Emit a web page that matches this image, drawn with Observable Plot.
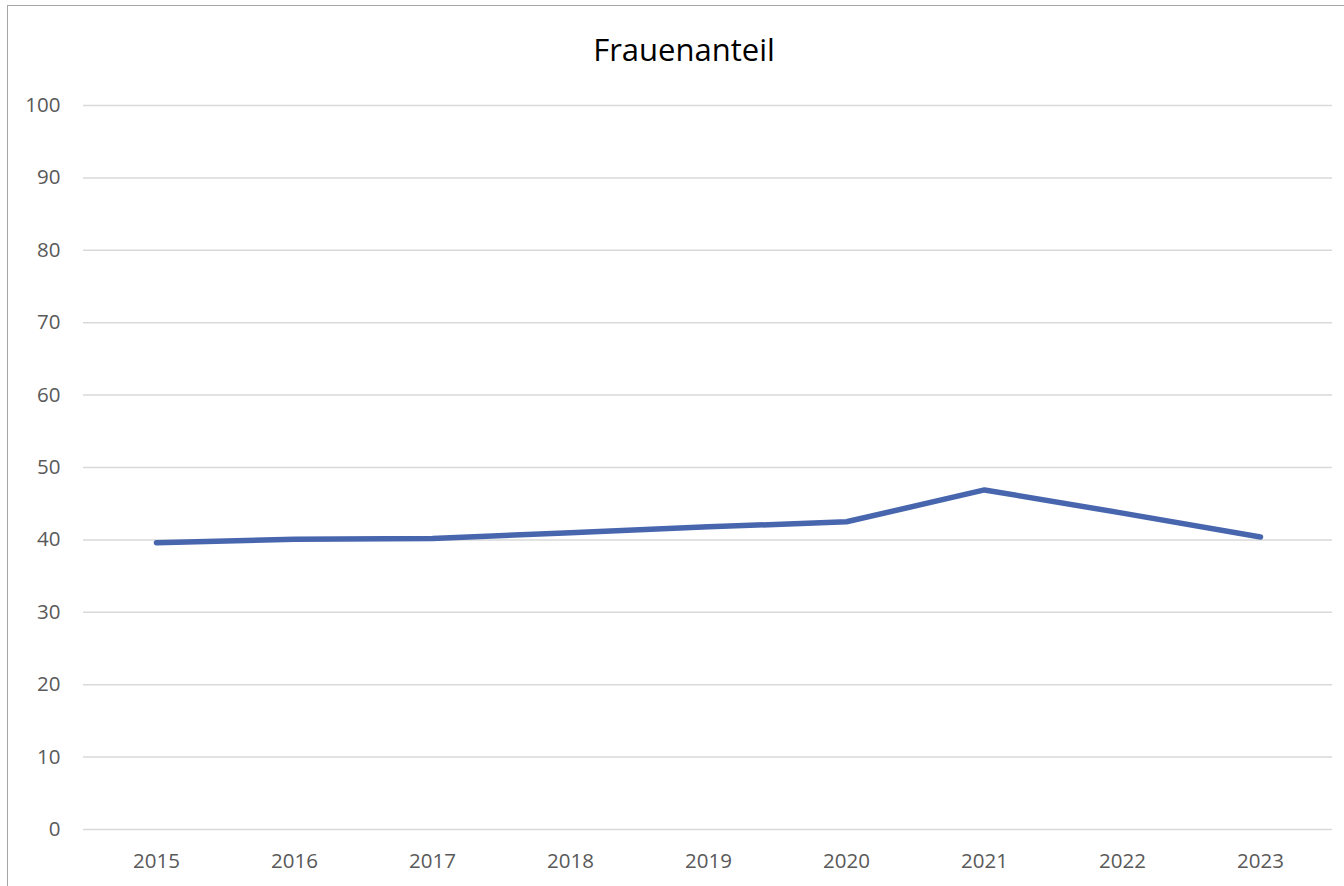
<!DOCTYPE html>
<html>
<head>
<meta charset="utf-8">
<script src="https://cdn.jsdelivr.net/npm/d3@7"></script>
<script src="https://cdn.jsdelivr.net/npm/@observablehq/plot@0.6"></script>
<style>
  html, body { margin: 0; padding: 0; background: #fff; overflow: hidden; }
  #wrap { position: relative; width: 1344px; height: 886px; font-family: "Open Sans", sans-serif; }
  #frame { position: absolute; left: 7px; top: 5px; width: 1400px; height: 1000px; border-left: 1.5px solid #a6a6a6; border-top: 1.5px solid #a6a6a6; box-sizing: border-box; pointer-events: none; }
  #title { position: absolute; left: 0; top: 28px; width: 1368px; text-align: center; font-size: 31px; line-height: normal; color: #000; }
  #chart { position: absolute; left: 0; top: 80px; }
</style>
</head>
<body>
<div id="wrap">
  <div id="frame"></div>
  <div id="title">Frauenanteil</div>
  <div id="chart"></div>
</div>
<script>
const years = ["2015", "2016", "2017", "2018", "2019", "2020", "2021", "2022", "2023"];
const values = [39.6, 40.1, 40.2, 41.0, 41.8, 42.5, 46.9, 43.7, 40.4];
const yTicks = [0, 10, 20, 30, 40, 50, 60, 70, 80, 90, 100];

const data = years.map((y, i) => ({year: y, value: values[i]}));

const plot = Plot.plot({
  width: 1344,
  height: 806,
  marginLeft: 83,
  marginRight: 12,
  marginTop: 25,
  marginBottom: 57,
  style: { fontFamily: "'Open Sans', sans-serif", fontSize: "20.5px", color: "#595959", background: "transparent" },
  x: { type: "point", domain: years, padding: 0.5, label: null },
  y: { domain: [0, 100], label: null },
  marks: [
    Plot.ruleY(yTicks, { stroke: "#d9d9d9", strokeWidth: 1.5 }),
    Plot.axisY({ ticks: yTicks, tickSize: 0, tickPadding: 23, label: null, fill: "#595959", fontSize: 20.5 }),
    Plot.axisX({ tickSize: 0, tickPadding: 24, label: null, fill: "#595959", fontSize: 20.5 }),
    Plot.line(data, { x: "year", y: "value", stroke: "#4866ae", strokeWidth: 5.5, strokeLinecap: "round", strokeLinejoin: "round" })
  ]
});
document.getElementById("chart").appendChild(plot);
</script>
</body>
</html>
